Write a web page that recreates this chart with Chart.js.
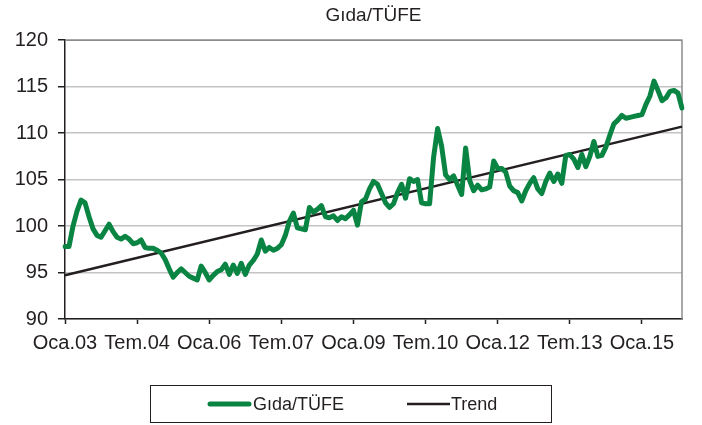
<!DOCTYPE html>
<html>
<head>
<meta charset="utf-8">
<script src="https://cdn.jsdelivr.net/npm/chart.js@4/dist/chart.umd.min.js"></script>
<style>
html,body{margin:0;padding:0;background:#fff;}
canvas{display:block;}
</style>
</head>
<body>
<canvas id="c" width="702" height="425"></canvas>
<script>
// ---- Data ----
const monthNames = ["Oca","Şub","Mar","Nis","May","Haz","Tem","Ağu","Eyl","Eki","Kas","Ara"];
const startYear = 2003;
const gidaTufe = [
  97.8, 97.8, 100.0, 101.6, 102.8, 102.5, 101.0, 99.7, 99.0, 98.8, 99.5, 100.2,
  99.4, 98.8, 98.6, 98.9, 98.6, 98.1, 98.2, 98.5, 97.7, 97.6, 97.6, 97.4,
  97.1, 96.4, 95.4, 94.5, 95.0, 95.4, 95.0, 94.6, 94.4, 94.2, 95.7, 95.0,
  94.2, 94.7, 95.1, 95.3, 95.9, 94.8, 95.8, 94.9, 96.0, 94.8, 95.8, 96.3,
  97.0, 98.5, 97.3, 97.7, 97.4, 97.6, 98.0, 99.0, 100.5, 101.4, 99.8, 99.7,
  99.6, 102.0, 101.5, 101.8, 102.2, 101.0, 100.9, 101.1, 100.6, 101.0, 100.8, 101.2,
  101.7, 100.1, 102.6, 102.9, 104.0, 104.8, 104.5, 103.5, 102.5, 102.0, 102.4, 103.6,
  104.5, 103.0, 105.1, 104.8, 105.0, 102.5, 102.4, 102.4, 107.4, 110.5, 108.6, 105.5,
  105.0, 105.4, 104.4, 103.4, 108.4, 104.9, 103.8, 104.4, 103.9, 104.0, 104.2, 107.0,
  106.2, 106.2, 105.8, 104.3, 103.8, 103.6, 102.7, 103.8, 104.6, 105.2, 104.0, 103.5,
  104.8, 105.7, 104.8, 105.6, 104.6, 107.6, 107.7, 107.2, 106.3, 107.7, 106.4, 107.5,
  109.1, 107.5, 107.6, 108.5, 109.8, 111.0, 111.4, 111.9, 111.6, 111.7, 111.8, 111.9,
  112.0, 113.1, 114.0, 115.6, 114.6, 113.5, 113.8, 114.5, 114.6, 114.3, 112.7
];
const trendStart = 94.7;
const trendEnd = 110.7;
const yTicks = [90, 95, 100, 105, 110, 115, 120];
const labelEvery = 18;
const seriesNames = ["Gıda/TÜFE", "Trend"];
const chartTitle = "Gıda/TÜFE";

// categories: monthly labels
const categories = gidaTufe.map((_, i) => {
  const m = i % 12;
  const y = startYear + Math.floor(i / 12);
  return monthNames[m] + "." + String(y % 100).padStart(2, "0");
});
// trend series: two endpoints, straight line between
const trend = gidaTufe.map((_, i) => i === 0 ? trendStart : (i === gidaTufe.length - 1 ? trendEnd : null));

const GREEN = "#0a8442";
const DARK = "#231f20";
const FONT = "'Liberation Sans', Arial, sans-serif";

const framePlugin = {
  id: "frame",
  beforeDatasetsDraw(chart) {
    const {ctx, chartArea: a} = chart;
    ctx.save();
    ctx.strokeStyle = "#8c8c8c";
    ctx.lineWidth = 1.5;
    ctx.beginPath();
    ctx.moveTo(a.left, a.top);
    ctx.lineTo(a.right, a.top);
    ctx.lineTo(a.right, a.bottom);
    ctx.stroke();
    ctx.restore();
  },
  afterDraw(chart) {
    const ctx = chart.ctx;
    ctx.save();
    // legend box
    ctx.strokeStyle = DARK;
    ctx.lineWidth = 1;
    ctx.strokeRect(150.5, 385.5, 401, 37);
    const ly = 404;
    const ds = chart.data.datasets;
    ctx.lineCap = "round";
    ctx.strokeStyle = ds[0].borderColor;
    ctx.lineWidth = ds[0].borderWidth;
    ctx.beginPath(); ctx.moveTo(210, ly); ctx.lineTo(249, ly); ctx.stroke();
    ctx.lineCap = "butt";
    ctx.strokeStyle = ds[1].borderColor;
    ctx.lineWidth = ds[1].borderWidth;
    ctx.beginPath(); ctx.moveTo(407, ly); ctx.lineTo(450, ly); ctx.stroke();
    ctx.fillStyle = DARK;
    ctx.font = "18px " + FONT;
    ctx.textBaseline = "middle";
    ctx.textAlign = "left";
    ctx.fillText(ds[0].label, 253, ly + 1);
    ctx.fillText(ds[1].label, 451, ly + 1);
    ctx.restore();
  }
};

new Chart(document.getElementById("c"), {
  type: "line",
  data: {
    labels: categories,
    datasets: [
      {
        label: seriesNames[0],
        data: gidaTufe,
        borderColor: GREEN,
        backgroundColor: GREEN,
        borderWidth: 5,
        pointRadius: 0,
        tension: 0,
        borderJoinStyle: "round",
        borderCapStyle: "round"
      },
      {
        label: seriesNames[1],
        data: trend,
        borderColor: DARK,
        backgroundColor: DARK,
        borderWidth: 2.5,
        pointRadius: 0,
        spanGaps: true
      }
    ]
  },
  options: {
    responsive: false,
    animation: false,
    devicePixelRatio: 1,
    layout: { padding: { top: 0, right: 20, bottom: 66, left: 0 } },
    plugins: {
      legend: { display: false },
      tooltip: { enabled: false },
      title: {
        display: true,
        text: chartTitle,
        fullSize: false,
        color: DARK,
        font: { family: FONT, size: 19, weight: "normal" },
        padding: { top: 4, bottom: 13.4 }
      }
    },
    scales: {
      x: {
        type: "category",
        offset: false,
        afterFit: (s) => { s.height = 40; },
        border: { display: true, color: DARK, width: 1.5 },
        grid: {
          drawOnChartArea: false,
          drawTicks: true,
          tickLength: 5,
          tickWidth: 1.5,
          tickColor: (ctx) => (ctx.index % labelEvery === 0 ? DARK : "rgba(0,0,0,0)")
        },
        ticks: {
          autoSkip: false,
          maxRotation: 0,
          minRotation: 0,
          padding: 7,
          color: DARK,
          font: { family: FONT, size: 20 },
          callback: function (value, index) {
            return index % labelEvery === 0 ? this.getLabelForValue(value) : "";
          }
        }
      },
      y: {
        min: yTicks[0],
        max: yTicks[yTicks.length - 1],
        afterFit: (s) => { s.width = 65; },
        afterBuildTicks: (s) => { s.ticks = yTicks.map(v => ({ value: v })); },
        border: { display: true, color: DARK, width: 1.5 },
        grid: {
          color: "#c4c4c4",
          lineWidth: 1.5,
          tickLength: 7,
          tickColor: DARK,
          tickWidth: 1.5
        },
        ticks: {
          padding: 10,
          color: DARK,
          font: { family: FONT, size: 20 }
        }
      }
    }
  },
  plugins: [framePlugin]
});
</script>
</body>
</html>
